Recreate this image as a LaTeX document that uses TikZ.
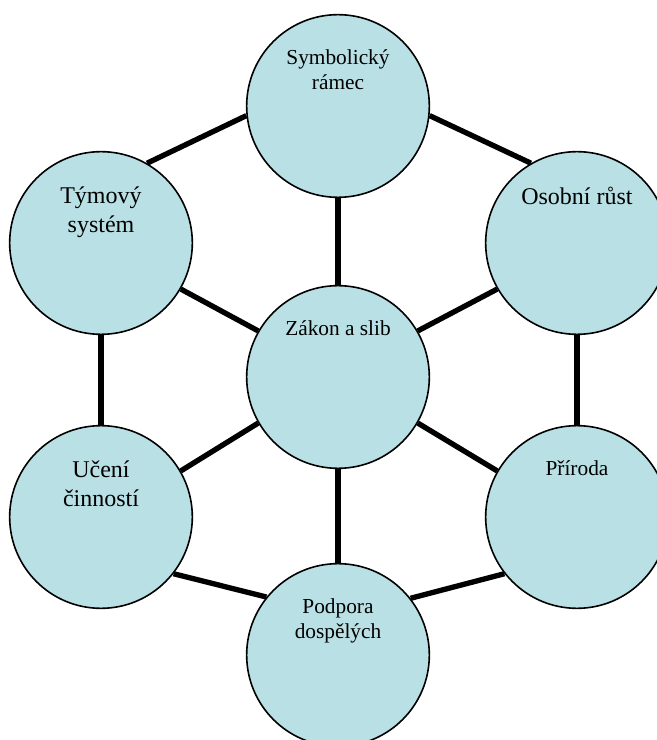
\documentclass[tikz,border=0pt]{standalone}
\usepackage{fontspec}
\setmainfont{Liberation Serif}
\usetikzlibrary{positioning,backgrounds}
\definecolor{cellblue}{RGB}{185,224,228}
\begin{document}
\begin{tikzpicture}[x=0.75pt,y=0.75pt,
  cell/.style={draw, circle, fill=cellblue, line width=1.2pt, minimum size=137pt, inner sep=0pt},
  big/.style={font=\fontsize{18}{21.5}\selectfont, align=center, inner sep=0pt},
  small/.style={font=\fontsize{16}{18.75}\selectfont, align=center, inner sep=0pt},
  link/.style={draw, line width=4pt}]
\useasboundingbox (0,0) rectangle (657,740);
\clip (0,0) rectangle (657,740);
\node[cell] (sym) at (338,634) {};
\node[cell] (tym) at (101,497) {};
\node[cell] (oso) at (577,497) {};
\node[cell] (zak) at (338,363) {};
\node[cell] (uce) at (101,223) {};
\node[cell] (pri) at (577,223) {};
\node[cell] (pod) at (338,85) {};
\node[small, below=27pt of sym.north] (symlbl) {Symbolický\\rámec};
\node[big, below=27pt of tym.north] (tymlbl) {Týmový\\systém};
\node[big, below=27pt of oso.north] (osolbl) {Osobní růst};
\node[small, below=27pt of zak.north] (zaklbl) {Zákon a slib};
\node[big, below=27pt of uce.north] (ucelbl) {Učení\\činností};
\node[small, below=27pt of pri.north] (prilbl) {Příroda};
\node[small, below=27pt of pod.north] (podlbl) {Podpora\\dospělých};
\begin{pgfonlayer}{background}
\path[link] (sym.186) -- (tym.60);
\path[link] (sym.354) -- (oso.120);
\path[link] (sym.south) -- (zak.north);
\path[link] (tym.-30) -- (zak.150);
\path[link] (oso.210) -- (zak.30);
\path[link] (tym.south) -- (uce.north);
\path[link] (oso.south) -- (pri.north);
\path[link] (uce.30) -- (zak.210);
\path[link] (pri.150) -- (zak.330);
\path[link] (zak.south) -- (pod.north);
\path[link] (uce.-38) -- (pod.141);
\path[link] (pri.218) -- (pod.38);
\end{pgfonlayer}
\end{tikzpicture}
\end{document}
